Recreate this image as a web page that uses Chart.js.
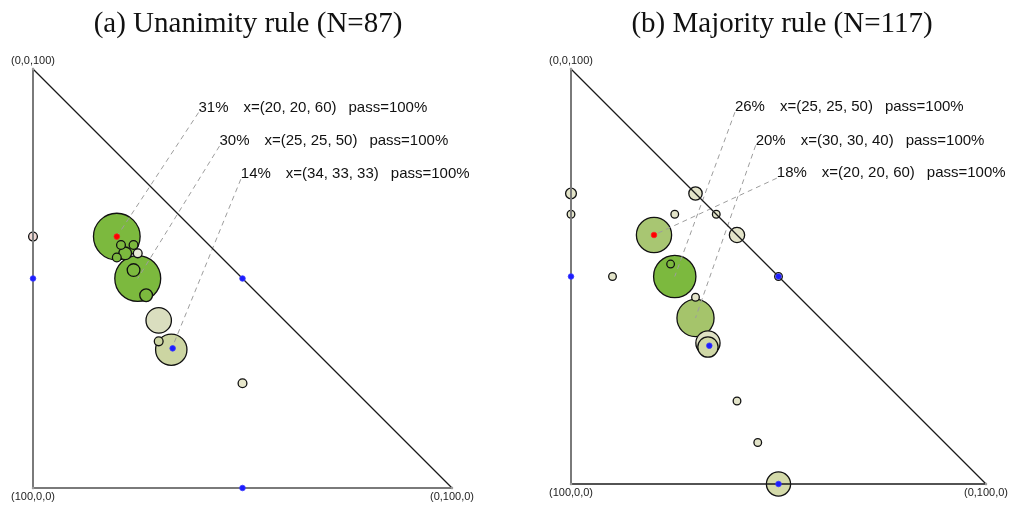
<!DOCTYPE html>
<html>
<head>
<meta charset="utf-8">
<script src="https://cdn.jsdelivr.net/npm/chart.js@4.4.0/dist/chart.umd.min.js"></script>
<style>
  html, body { margin: 0; padding: 0; background: #fff; }
  #wrap { position: relative; width: 1011px; height: 507px; overflow: hidden; }
  canvas { position: absolute; top: 0; }
  #chartA { left: 0; }
  #chartB { left: 505px; }
</style>
</head>
<body>
<div id="wrap">
  <canvas id="chartA" width="505" height="507"></canvas>
  <canvas id="chartB" width="506" height="507"></canvas>
</div>
<script>
// ---- data: allocations (a, b, c) out of 100 and the share of proposals (%) ----
const unanimityAlloc = [
  [20, 20, 60], [25, 25, 50], [34, 33, 33], [30, 30, 40],
  [21, 21, 58], [18, 24, 58], [22, 22, 56], [25, 20, 55],
  [19, 25, 56], [24, 24, 52], [27, 27, 46], [35, 30, 35],
  [40, 0, 60], [25, 50, 25]
];
const unanimityShare = [31, 30, 14, 9.2, 1.1, 1.1, 2.3, 1.1, 1.1, 2.3, 2.3, 1.1, 1.1, 1.1];
const unanimityPass = [100, 100, 100];   // pass rate of the three most common proposals

const majorityAlloc = [
  [25, 25, 50], [30, 30, 40], [20, 20, 60], [33, 33, 34],
  [34, 33, 33], [50, 50, 0], [0, 40, 60], [0, 30, 70],
  [30, 0, 70], [35, 0, 65], [40, 10, 50], [10, 25, 65],
  [0, 35, 65], [0, 50, 50], [23, 24, 53], [25, 30, 45],
  [40, 40, 20], [45, 45, 10]
];
const majorityShare = [26, 20, 18, 8.5, 6.0, 8.5, 3.4, 2.6, 1.7, 0.85, 0.85, 0.85, 0.85, 0.85, 0.85, 0.85, 0.85, 0.85];
const majorityPass = [100, 100, 100];

// equal splits between two players and among all three
const referencePoints = [[50, 0, 50], [0, 50, 50], [50, 50, 0], [33.33, 33.33, 33.33]];
const highlightPoint = [20, 20, 60];

const panelTitles = ['(a) Unanimity rule (N=87)', '(b) Majority rule (N=117)'];
const vertexLabels = ['(0,0,100)', '(100,0,0)', '(0,100,0)'];

// ---- styles ----
const GREEN = '#7cb93e', LIGHT = '#e3e4c9';
const unanimityFill = [GREEN, GREEN, '#ccd5a2', '#dadebf', GREEN, GREEN, GREEN, GREEN,
  '#e9ead8', GREEN, GREEN, '#ccd5a2', '#f2dad6', '#e7e7cb'];
const majorityFill = [GREEN, '#a5c46b', '#a8c672', '#dfe1c4', '#cfd7a6', '#d4daaa',
  LIGHT, LIGHT, LIGHT, LIGHT, LIGHT, LIGHT, LIGHT, LIGHT, GREEN, LIGHT, LIGHT, LIGHT];

// label anchors for the three callouts, in plot units (b, c)
const noteAnchors = [[39.5, 89.6], [44.5, 81.6], [49.6, 73.7]];

const xy = p => ({ x: p[1], y: p[2] });

function textPlugin(title, notes) {
  return {
    id: 'panelText',
    afterDraw(chart) {
      const c = chart.ctx, a = chart.chartArea;
      c.save();
      // panel title
      c.fillStyle = '#111';
      c.font = '29px "Liberation Serif", "Times New Roman", serif';
      c.textAlign = 'center';
      c.textBaseline = 'alphabetic';
      c.fillText(title.text, title.cx, 32);
      // vertex labels
      c.font = '11px "Liberation Sans", Arial, sans-serif';
      c.fillStyle = '#222';
      c.textBaseline = 'middle';
      c.fillText(vertexLabels[0], a.left, a.top - 8);
      c.fillText(vertexLabels[1], a.left, a.bottom + 9);
      c.fillText(vertexLabels[2], a.right, a.bottom + 9);
      // callouts
      c.font = '15px "Liberation Sans", Arial, sans-serif';
      c.textAlign = 'left';
      c.fillStyle = '#111';
      notes.forEach(n => {
        const px = chart.scales.x.getPixelForValue(n.anchor[0]);
        const py = chart.scales.y.getPixelForValue(n.anchor[1]) - 5;
        c.fillText(n.share + '%', px, py);
        const detail = 'x=(' + n.alloc.join(', ') + ')';
        c.fillText(detail, px + 45, py);
        const w = c.measureText(detail).width;
        c.fillText('pass=' + n.pass + '%', px + 45 + w + 12, py);
      });
      c.restore();
    }
  };
}

function buildPanel(canvasId, alloc, share, fill, pass, title, bottomEdge) {
  const idx = share.map((_, i) => i).sort((i, j) => share[j] - share[i]);
  const fills = idx.map(i => fill[i]);

  const notes = [0, 1, 2].map(i => ({
    share: share[i], alloc: alloc[i], pass: pass[i], anchor: noteAnchors[i]
  }));

  const leaders = notes.map(n => ({
    type: 'line',
    order: 2,
    data: [{ x: n.anchor[0], y: n.anchor[1] }, xy(n.alloc)],
    borderColor: '#9d9d9d',
    borderWidth: 1,
    borderDash: [5, 4],
    pointRadius: 0,
    clip: false
  }));

  const edge = (p, q, color, width) => ({
    type: 'line',
    order: 1,
    data: [xy(p), xy(q)],
    borderColor: color,
    borderWidth: width,
    pointRadius: 1.2,
    pointBackgroundColor: '#9a9a9a',
    pointBorderWidth: 0,
    clip: false
  });

  const bubbleSet = {
    type: 'bubble',
    order: 3,
    data: [],
    backgroundColor: fills,
    borderColor: '#111',
    borderWidth: 1.3,
    clip: false
  };

  const datasets = [
    {
      type: 'scatter',
      order: 0,
      data: referencePoints.map(xy).concat([xy(highlightPoint)]),
      pointRadius: 2.8,
      pointBackgroundColor: referencePoints.map(() => '#1c1cff').concat(['#ff0000']),
      pointBorderColor: referencePoints.map(() => '#3b3bff').concat(['#ff2020']),
      pointBorderWidth: 0.8,
      clip: false
    },
    edge([100, 0, 0], [0, 0, 100], '#7a7a7a', 2),
    edge([100, 0, 0], [0, 100, 0], bottomEdge.color, bottomEdge.width),
    edge([0, 0, 100], [0, 100, 0], '#1a1a1a', 1.2),
    ...leaders,
    bubbleSet
  ];

  const pad = canvasId === 'chartA'
    ? { left: 33, right: 53, top: 69, bottom: 19 }
    : { left: 66, right: 25, top: 69, bottom: 23 };

  const chart = new Chart(document.getElementById(canvasId), {
    type: 'bubble',
    data: { datasets },
    options: {
      responsive: false,
      animation: false,
      devicePixelRatio: 1,
      events: [],
      layout: { padding: pad, autoPadding: false },
      scales: {
        x: { type: 'linear', min: 0, max: 100, display: false },
        y: { type: 'linear', min: 0, max: 100, display: false }
      },
      plugins: { legend: { display: false }, tooltip: { enabled: false }, title: { display: false } }
    },
    plugins: [textPlugin(title, notes)]
  });

  // bubble area proportional to share: radius = sqrt(share) in plot units,
  // converted to pixels through the x scale once it has been laid out
  const sx = chart.scales.x;
  const unit = sx.getPixelForValue(1) - sx.getPixelForValue(0);
  bubbleSet.data = idx.map(i => ({
    x: alloc[i][1], y: alloc[i][2], r: Math.sqrt(share[i]) * unit
  }));
  chart.update('none');
  return chart;
}

buildPanel('chartA', unanimityAlloc, unanimityShare, unanimityFill, unanimityPass,
  { text: panelTitles[0], cx: 248 }, { color: '#7a7a7a', width: 2 });
buildPanel('chartB', majorityAlloc, majorityShare, majorityFill, majorityPass,
  { text: panelTitles[1], cx: 782 - 505 }, { color: '#1a1a1a', width: 1.5 });
</script>
</body>
</html>
